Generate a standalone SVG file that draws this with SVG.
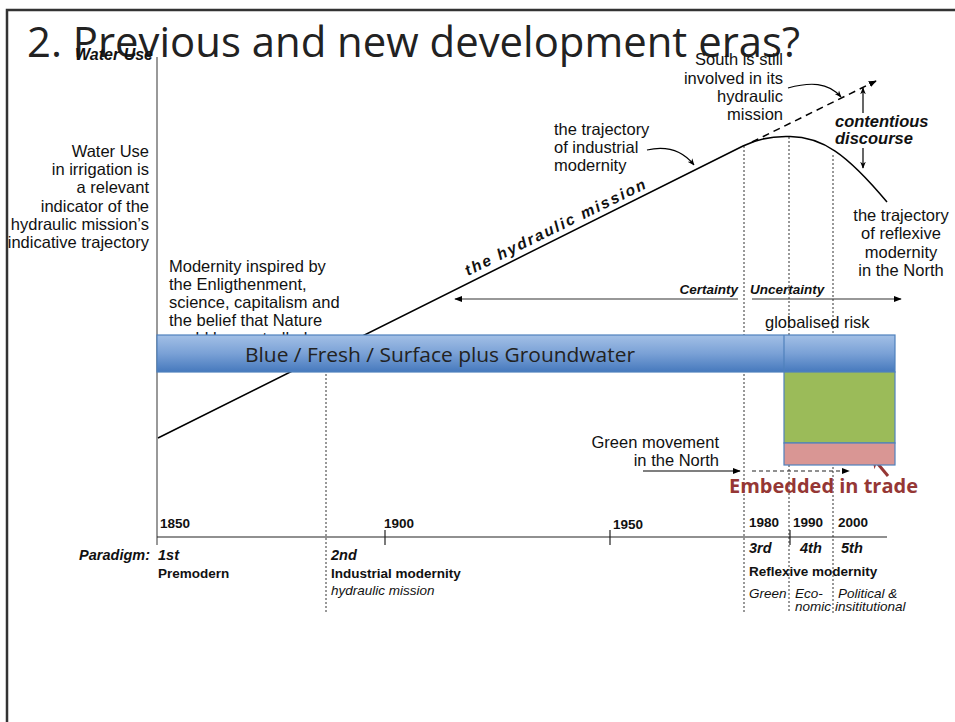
<svg xmlns="http://www.w3.org/2000/svg" width="955" height="722" viewBox="0 0 955 722">
<defs>
<linearGradient id="blueGrad" x1="0" y1="0" x2="0" y2="1">
<stop offset="0" stop-color="#a3c0e6"/>
<stop offset="0.5" stop-color="#7aa1d6"/>
<stop offset="1" stop-color="#4679bd"/>
</linearGradient>
<marker id="ah" viewBox="0 0 10 10" refX="9" refY="5" markerWidth="8" markerHeight="8" markerUnits="userSpaceOnUse" orient="auto"><path d="M0,1 L10,5 L0,9 z" fill="#000"/></marker>
<marker id="ahs" viewBox="0 0 10 10" refX="9" refY="5" markerWidth="7" markerHeight="7" markerUnits="userSpaceOnUse" orient="auto"><path d="M0,1 L10,5 L0,9 L3,5 z" fill="#000"/></marker>
<marker id="ahr" viewBox="0 0 10 10" refX="8" refY="5" markerWidth="12" markerHeight="12" markerUnits="userSpaceOnUse" orient="auto"><path d="M0,0 L10,5 L0,10 L3,5 z" fill="#953735"/></marker>
<style>
.t{font-family:"Liberation Sans",Arial,sans-serif;font-size:16.5px;fill:#111}
.bi{font-family:"Liberation Sans",Arial,sans-serif;font-weight:bold;font-style:italic;fill:#111}
.b{font-family:"Liberation Sans",Arial,sans-serif;font-weight:bold;fill:#111}
.i{font-family:"Liberation Sans",Arial,sans-serif;font-style:italic;fill:#111;font-size:13.5px}
.yr{font-family:"Liberation Sans",Arial,sans-serif;font-weight:bold;font-size:13.5px;fill:#111}
.dot{stroke:#333;stroke-width:1;stroke-dasharray:2 2;fill:none}
.ln{stroke:#000;stroke-width:1.5;fill:none}
.thin{stroke:#000;stroke-width:1.2;fill:none}
.cal{font-family:"Open Sans","Noto Sans",sans-serif}
</style>
</defs>
<rect width="955" height="722" fill="#fff"/>
<rect x="7" y="10" width="960" height="730" fill="none" stroke="#333" stroke-width="2.5"/>

<g id="guides">
<line class="dot" x1="326" y1="350" x2="326" y2="613"/>
<line class="dot" x1="744" y1="146" x2="744" y2="613"/>
<line class="dot" x1="789" y1="137" x2="789" y2="613"/>
<line class="dot" x1="833" y1="155" x2="833" y2="613"/>
</g>

<g id="axes">
<line x1="157" y1="57" x2="157" y2="545" stroke="#777" stroke-width="1.5"/>
<line x1="157" y1="537" x2="887" y2="537" stroke="#222" stroke-width="1.2"/>
<line x1="385" y1="530" x2="385" y2="545" stroke="#222" stroke-width="1.2"/>
<line x1="610" y1="530" x2="610" y2="545" stroke="#222" stroke-width="1.2"/>
<line x1="790" y1="530" x2="790" y2="545" stroke="#222" stroke-width="1.2"/>
</g>

<g id="modernity-note">
<text class="t" x="169" y="272">Modernity inspired by</text>
<text class="t" x="169" y="290">the Enligthenment,</text>
<text class="t" x="169" y="308">science, capitalism and</text>
<text class="t" x="169" y="326">the belief that Nature</text>
<text class="t" x="169" y="344">could be controlled</text>
</g>

<g id="connectors">
<path class="ln" d="M158 438 L743 146 C760 137.5 775 136 790 136.5 C822 137 846 153 887 202"/>
<path d="M752 142 L876 81" stroke="#000" stroke-width="1.5" stroke-dasharray="7 5" fill="none" marker-end="url(#ah)"/>
<path class="thin" d="M788 88 C810 82 828 82 841 97" marker-end="url(#ahs)"/>
<path class="thin" d="M647 150 C665 146 682 150 694 165" marker-end="url(#ahs)"/>
<line class="thin" x1="863" y1="113" x2="863" y2="88" marker-end="url(#ahs)"/>
<line class="thin" x1="863" y1="148" x2="863" y2="168" marker-end="url(#ahs)"/>
<line x1="738" y1="299" x2="455" y2="299" stroke="#333" stroke-width="1.2" marker-end="url(#ah)"/>
<line x1="752" y1="299" x2="901" y2="299" stroke="#333" stroke-width="1.2" marker-end="url(#ah)"/>
<line class="thin" x1="643" y1="471" x2="740" y2="471" marker-end="url(#ah)"/>
<line x1="752" y1="471" x2="849" y2="471" stroke="#222" stroke-width="1.2" stroke-dasharray="4 3" marker-end="url(#ah)"/>
<line x1="888" y1="476" x2="873" y2="458" stroke="#953735" stroke-width="3" marker-end="url(#ahr)"/>
</g>

<g id="water-bar">
<rect x="157" y="335" width="738" height="37" fill="url(#blueGrad)" stroke="#4f81bd" stroke-width="1.2"/>
<line x1="784" y1="335" x2="784" y2="372" stroke="#4f81bd" stroke-width="1.2"/>
<text class="cal" x="245" y="362" font-size="20" fill="#222" textLength="390" lengthAdjust="spacingAndGlyphs">Blue / Fresh / Surface plus Groundwater</text>
</g>
<g id="green-box">
<rect x="784" y="372" width="111" height="71" fill="#9bbb59" stroke="#4f81bd" stroke-width="1.2"/>
</g>
<g id="trade-box">
<rect x="784" y="443" width="111" height="22" fill="#d99694" stroke="#4f81bd" stroke-width="1.2"/>
</g>
<g id="embedded-label">
<text class="cal" x="729" y="493" font-size="20" font-weight="bold" fill="#953735" textLength="189" lengthAdjust="spacingAndGlyphs">Embedded in trade</text>
</g>

<g id="title">
<text class="cal" x="27" y="57" font-size="42" fill="#222" textLength="773" lengthAdjust="spacingAndGlyphs">2. Previous and new development eras?</text>
</g>

<g id="y-label">
<text class="bi" x="153" y="60" font-size="16" text-anchor="end">Water Use</text>
</g>

<g id="indicator-note">
<text class="t" x="149" y="157" text-anchor="end">Water Use</text>
<text class="t" x="149" y="175" text-anchor="end">in irrigation is</text>
<text class="t" x="149" y="193" text-anchor="end">a relevant</text>
<text class="t" x="149" y="212" text-anchor="end">indicator of the</text>
<text class="t" x="149" y="230" text-anchor="end">hydraulic mission’s</text>
<text class="t" x="149" y="248" text-anchor="end">indicative trajectory</text>
</g>

<g id="south-note">
<text class="t" x="783" y="65" text-anchor="end">South is still</text>
<text class="t" x="783" y="84" text-anchor="end">involved in its</text>
<text class="t" x="783" y="102" text-anchor="end">hydraulic</text>
<text class="t" x="783" y="120" text-anchor="end">mission</text>
</g>

<g id="contentious">
<text class="bi" x="835" y="127" font-size="16.5">contentious</text>
<text class="bi" x="835" y="144" font-size="16.5">discourse</text>
</g>

<g id="industrial-note">
<text class="t" x="554" y="135">the trajectory</text>
<text class="t" x="554" y="153">of industrial</text>
<text class="t" x="554" y="171">modernity</text>
</g>

<g id="hydraulic-label">
<text class="bi" font-size="15.5" letter-spacing="2" transform="translate(468 276) rotate(-26.2)">the hydraulic mission</text>
</g>

<g id="reflexive-note">
<text class="t" x="901" y="221" text-anchor="middle">the trajectory</text>
<text class="t" x="901" y="239" text-anchor="middle">of reflexive</text>
<text class="t" x="901" y="258" text-anchor="middle">modernity</text>
<text class="t" x="901" y="276" text-anchor="middle">in the North</text>
</g>

<g id="certainty">
<text class="bi" x="738" y="294" font-size="13.5" text-anchor="end">Certainty</text>
<text class="bi" x="750" y="294" font-size="13.5">Uncertainty</text>
</g>

<g id="risk">
<text class="t" x="765" y="328">globalised risk</text>
</g>

<g id="green-movement">
<text class="t" x="719" y="448" text-anchor="end">Green movement</text>
<text class="t" x="719" y="466" text-anchor="end">in the North</text>
</g>

<g id="years">
<text class="yr" x="160" y="528">1850</text>
<text class="yr" x="384" y="528">1900</text>
<text class="yr" x="613" y="529">1950</text>
<text class="yr" x="749" y="527">1980</text>
<text class="yr" x="793" y="527">1990</text>
<text class="yr" x="838" y="527">2000</text>
</g>

<g id="paradigms">
<text class="bi" x="150" y="560" font-size="14.5" text-anchor="end">Paradigm:</text>
<text class="bi" x="158" y="560" font-size="14.5">1st</text>
<text class="bi" x="331" y="560" font-size="14.5">2nd</text>
<text class="bi" x="749" y="553" font-size="14.5">3rd</text>
<text class="bi" x="800" y="553" font-size="14.5">4th</text>
<text class="bi" x="841" y="553" font-size="14.5">5th</text>
<text class="b" x="158" y="578" font-size="13.5">Premodern</text>
<text class="b" x="331" y="578" font-size="13.5">Industrial modernity</text>
<text class="b" x="749" y="576" font-size="13.5">Reflexive modernity</text>
<text class="i" x="331" y="595">hydraulic mission</text>
<text class="i" x="749" y="598" font-size="13">Green</text>
<text class="i" x="795" y="598" font-size="13">Eco-</text>
<text class="i" x="795" y="611" font-size="13">nomic</text>
<text class="i" x="838" y="598" font-size="13">Political &amp;</text>
<text class="i" x="835" y="611" font-size="13.5">insititutional</text>
</g>
</svg>
